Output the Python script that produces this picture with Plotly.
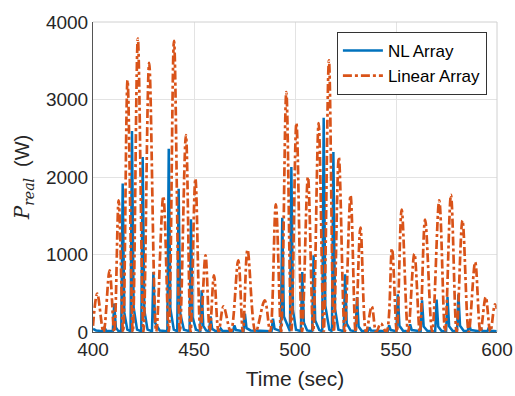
import plotly.graph_objects as go

# NL Array (blue, solid spikes)
nl_time = [400.0, 401.5, 404.8, 405.6, 406.5, 409.8, 410.5, 411.3, 412.5, 414.0, 414.7, 415.5, 417.0,
           418.6, 419.3, 420.1, 421.8, 423.9, 424.6, 425.4, 427.0, 429.2, 429.9, 430.7, 433.0,
           436.8, 437.5, 438.3, 440.0, 441.7, 442.4, 443.2, 445.0, 447.8, 448.5, 449.3, 451.0,
           453.1, 453.8, 454.6, 456.0, 457.5, 458.2, 459.0, 460.5, 462.5, 463.2, 464.0,
           469.3, 470.0, 470.8, 474.5, 475.2, 476.0, 478.0, 488.4, 489.1, 489.9,
           493.0, 493.7, 494.5, 497.5, 498.2, 499.0, 500.5, 502.9, 503.6, 504.4, 506.0,
           508.5, 509.2, 510.0, 512.0, 513.5, 514.2, 515.0, 517.0, 518.3, 519.0, 519.8, 521.5,
           524.1, 524.8, 525.6, 527.5, 530.0, 530.7, 531.5, 533.0, 536.1, 536.8, 537.6,
           545.9, 546.6, 547.4, 550.2, 550.9, 551.7, 553.5, 556.3, 557.0, 557.8,
           562.2, 562.9, 563.7, 565.5, 569.4, 570.1, 570.9, 572.5, 574.8, 575.5, 576.3, 578.0,
           580.2, 580.9, 581.7, 583.5, 585.5, 586.2, 587.0, 591.2, 591.9, 592.7,
           595.3, 596.0, 596.8, 600.0]
nl_power = [40, 20, 10, 65, 15, 10, 368, 60, 15, 10, 1915, 250, 30,
            10, 2594, 320, 30, 10, 2258, 280, 30, 10, 774, 120, 20,
            10, 2365, 300, 30, 10, 1849, 240, 30, 10, 1453, 190, 30,
            10, 537, 80, 20, 10, 202, 40, 15, 10, 43, 15,
            10, 86, 25, 10, 236, 50, 20, 10, 172, 40,
            10, 1475, 200, 10, 2128, 280, 30, 10, 774, 120, 20,
            10, 989, 150, 25, 10, 2765, 340, 30, 10, 2322, 300, 30,
            10, 744, 110, 20, 10, 452, 70, 15, 10, 60, 20,
            10, 86, 25, 10, 486, 80, 15, 10, 100, 25,
            10, 408, 70, 15, 10, 417, 70, 15, 10, 451, 75, 15,
            10, 486, 80, 15, 10, 108, 25, 10, 43, 15,
            10, 60, 15, 10]

# Linear Array (orange, dash-dot humps)
lin_time = [400.0, 402.1, 405.2, 408.2, 410.5, 412.7, 414.9, 417.1, 419.7, 422.2, 425.0, 427.8,
            431.3, 434.8, 437.5, 440.1, 443.0, 446.0, 448.3, 450.7, 453.2, 455.7, 457.8, 459.9,
            462.2, 464.6, 468.2, 471.9, 474.2, 476.5, 480.5, 485.0, 487.7, 490.5, 493.1, 495.7,
            498.2, 500.7, 503.5, 506.4, 509.0, 511.7, 514.2, 516.8, 519.2, 521.7, 524.6, 527.5,
            530.0, 532.4, 535.2, 538.0, 540.2, 542.5, 545.2, 548.0, 550.4, 552.8, 556.0, 559.1,
            561.8, 564.4, 567.9, 571.4, 574.3, 577.2, 580.0, 582.9, 586.0, 589.2, 591.8, 594.4,
            596.7, 599.0, 600.0]
lin_power = [80, 495, 0, 796, 0, 1700, 0, 3248, 0, 3786, 0, 3472,
             0, 1752, 0, 3758, 0, 2541, 0, 1980, 0, 989, 0, 731,
             0, 331, 0, 924, 0, 1062, 0, 408, 0, 1647, 0, 3096,
             0, 2696, 0, 2000, 0, 2696, 0, 3504, 0, 2257, 0, 1763,
             0, 1346, 0, 331, 0, 110, 0, 1075, 0, 1580, 0, 1010,
             0, 1449, 0, 1698, 0, 1770, 0, 1440, 0, 903, 0, 451,
             0, 357, 300]

x_ticks = [400, 450, 500, 550, 600]
y_ticks = [0, 1000, 2000, 3000, 4000]

FONT = "Liberation Sans"
TXT = "#262626"

fig = go.Figure()
fig.add_trace(go.Scatter(x=nl_time, y=nl_power, mode="lines", name="NL Array",
                         line=dict(color="#0072BD", width=2.5)))
fig.add_trace(go.Scatter(x=lin_time, y=lin_power, mode="lines", name="Linear Array",
                         line=dict(color="#D95319", width=2.7, dash="dashdot", shape="spline", smoothing=1.0)))

fig.update_layout(
    width=515, height=396,
    margin=dict(l=93, r=18, t=22, b=64, autoexpand=False),
    paper_bgcolor="white", plot_bgcolor="white",
    font=dict(family=FONT, size=19, color=TXT),
    showlegend=True,
    legend=dict(x=0.975, y=0.968, xanchor="right", yanchor="top",
                bgcolor="white", bordercolor="#333333", borderwidth=1,
                font=dict(size=17, color="black"), tracegroupgap=0,
                itemwidth=40),
    xaxis=dict(range=[400, 600], tickvals=x_ticks, ticktext=[str(v) for v in x_ticks],
               showgrid=True, gridcolor="#e3e3e3", gridwidth=1, automargin=False,
               showline=True, linecolor="#555555", linewidth=1, zeroline=False,
               ticks="", tickfont=dict(size=19),
               title=dict(text="Time (sec)", standoff=12, font=dict(size=21))),
    yaxis=dict(range=[0, 4000], tickvals=y_ticks, ticktext=[str(v) for v in y_ticks],
               showgrid=True, gridcolor="#e3e3e3", gridwidth=1, automargin=False,
               showline=True, linecolor="#555555", linewidth=1, zeroline=False,
               ticks="", tickfont=dict(size=19),
               title=dict(text="<span style='font-family:DejaVu Serif'><i>P</i><sub><i>real</i></sub></span>  (W)",
                          standoff=10, font=dict(size=20))),
)
fig.add_shape(type="line", xref="paper", yref="paper", x0=0, x1=1, y0=1, y1=1,
              line=dict(color="#d0d0d0", width=1))
fig.add_shape(type="line", xref="paper", yref="paper", x0=1, x1=1, y0=0, y1=1,
              line=dict(color="#d0d0d0", width=1))

fig.write_html("out.html")
